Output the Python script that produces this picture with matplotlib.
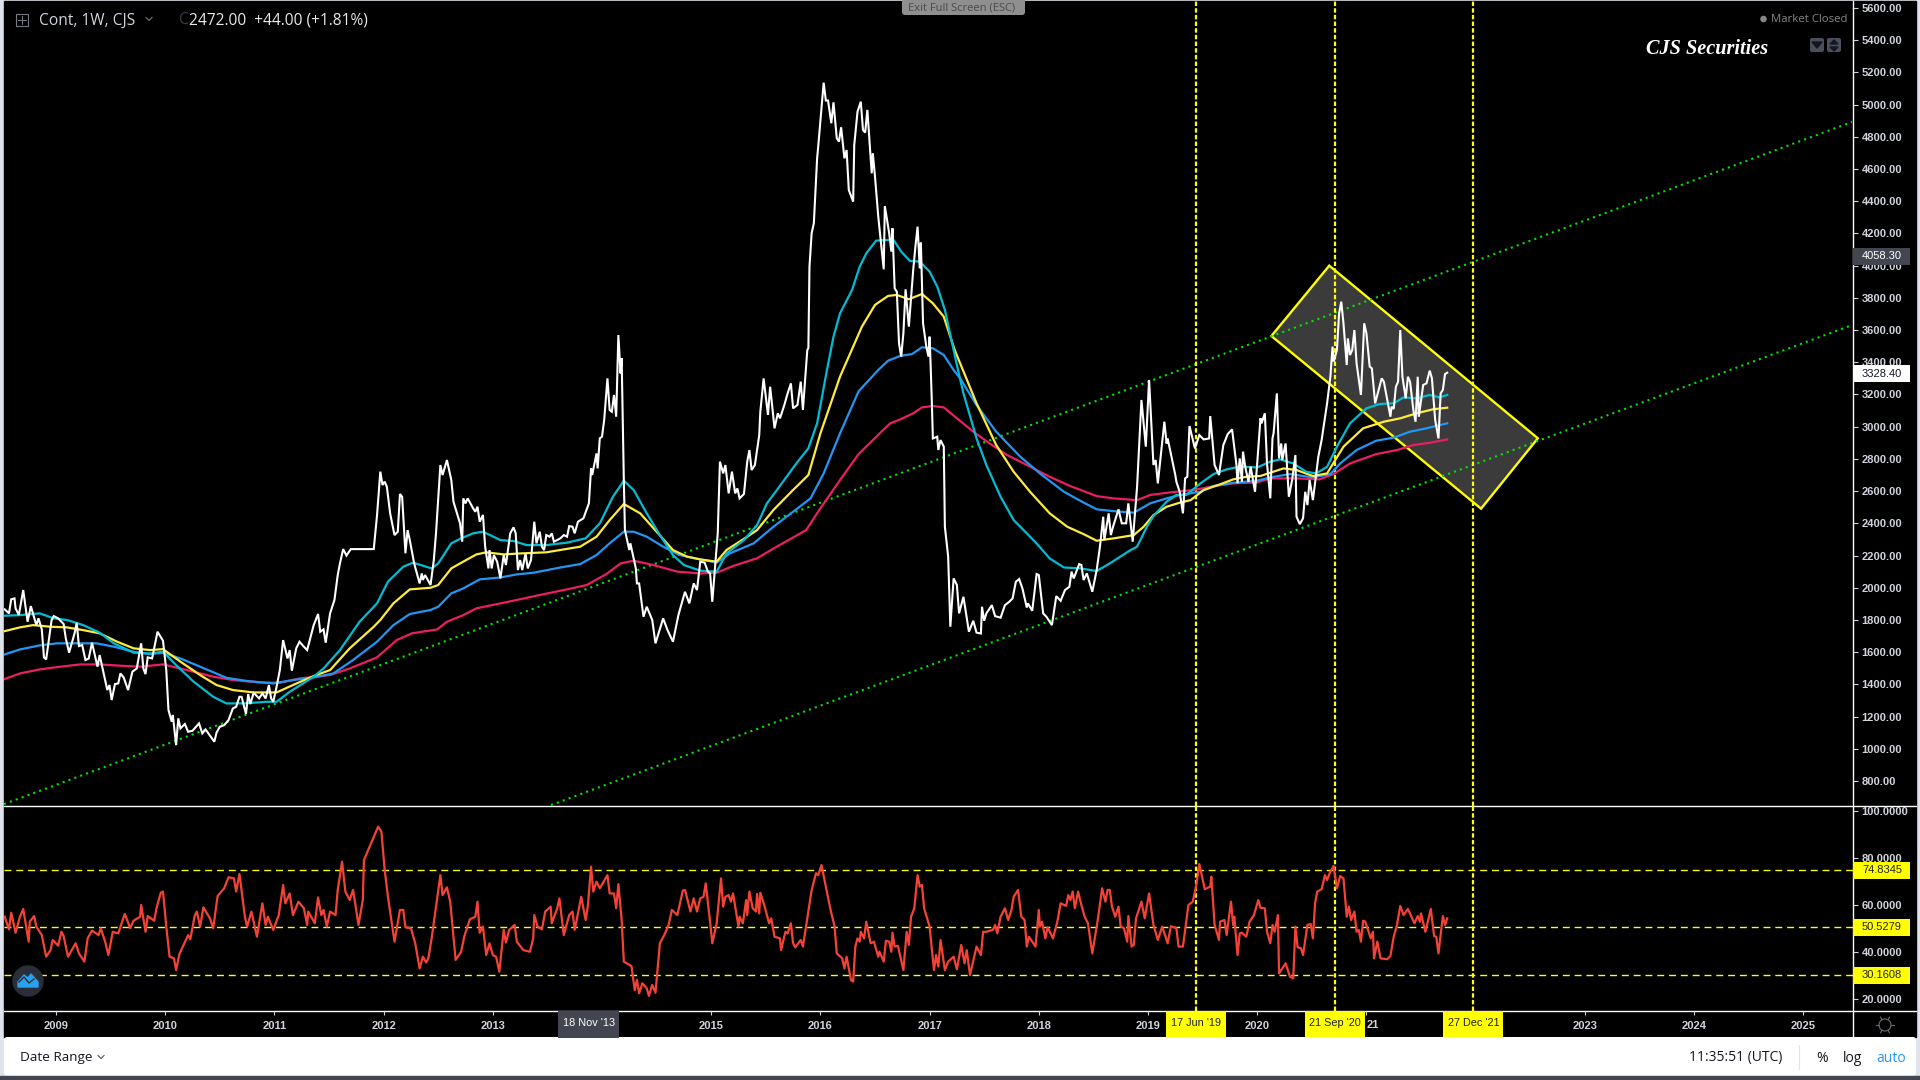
import numpy as np
import matplotlib
matplotlib.use("Agg")
import matplotlib.pyplot as plt
from matplotlib.patches import Rectangle, Circle, Polygon, FancyBboxPatch

# all values, (decimal year, value)
price = [(2008.53,1866),(2008.57,1841),(2008.59,1928),(2008.62,1934),(2008.63,1872),(2008.66,1831),(2008.70,1986),(2008.74,1789),
(2008.77,1886),(2008.82,1768),(2008.84,1810),(2008.87,1742),(2008.89,1568),(2008.91,1555),(2008.96,1800),(2008.98,1824),
(2009.02,1810),(2009.07,1775),(2009.09,1686),(2009.12,1597),(2009.17,1717),(2009.19,1783),(2009.21,1638),(2009.24,1644),
(2009.27,1551),(2009.30,1561),(2009.33,1659),(2009.38,1510),(2009.40,1582),(2009.47,1365),(2009.49,1396),(2009.51,1303),
(2009.54,1402),(2009.57,1406),(2009.59,1468),(2009.62,1443),(2009.66,1365),(2009.70,1479),(2009.74,1499),(2009.78,1655),
(2009.80,1499),(2009.82,1464),(2009.84,1568),(2009.88,1561),(2009.93,1727),(2009.98,1671),(2010.01,1489),(2010.03,1241),
(2010.06,1168),(2010.07,1210),(2010.10,1023),(2010.12,1189),(2010.14,1127),(2010.18,1154),(2010.21,1106),(2010.25,1112),
(2010.31,1158),(2010.34,1096),(2010.37,1120),(2010.45,1044),(2010.47,1100),(2010.50,1137),(2010.54,1147),(2010.58,1178),
(2010.62,1251),(2010.65,1261),(2010.68,1323),(2010.70,1323),(2010.74,1216),(2010.76,1340),(2010.78,1278),(2010.81,1348),
(2010.86,1313),(2010.89,1344),(2010.92,1313),(2010.95,1396),(2010.97,1313),(2010.99,1292),(2011.02,1385),(2011.05,1489),
(2011.08,1675),(2011.12,1561),(2011.14,1613),(2011.16,1485),(2011.20,1624),(2011.23,1665),(2011.27,1634),(2011.30,1613),
(2011.36,1768),(2011.40,1837),(2011.42,1727),(2011.45,1742),(2011.47,1659),(2011.51,1841),(2011.55,1924),(2011.58,2079),
(2011.60,2150),(2011.63,2240),(2011.66,2200),(2011.70,2240),(2011.91,2240),(2011.94,2450),(2011.97,2721),(2011.99,2638),
(2012.01,2659),(2012.03,2627),(2012.06,2462),(2012.10,2327),(2012.13,2348),(2012.15,2582),(2012.17,2565),(2012.20,2214),
(2012.22,2358),(2012.24,2296),(2012.28,2151),(2012.33,2027),(2012.35,2089),(2012.36,2048),(2012.38,2079),(2012.43,2017),
(2012.46,2172),(2012.48,2338),(2012.52,2762),(2012.54,2700),(2012.58,2793),(2012.62,2669),(2012.64,2534),(2012.70,2400),
(2012.72,2286),(2012.73,2555),(2012.75,2524),(2012.77,2555),(2012.82,2493),(2012.84,2472),(2012.86,2503),(2012.88,2410),
(2012.91,2452),(2012.93,2255),(2012.96,2120),(2012.97,2234),(2012.99,2120),(2013.01,2203),(2013.04,2162),(2013.07,2058),
(2013.10,2203),(2013.12,2141),(2013.16,2338),(2013.19,2375),(2013.21,2338),(2013.23,2110),(2013.25,2172),(2013.27,2110),
(2013.30,2213),(2013.32,2120),(2013.35,2172),(2013.38,2410),(2013.40,2276),(2013.43,2348),(2013.45,2255),(2013.47,2234),
(2013.49,2327),(2013.52,2317),(2013.54,2338),(2013.56,2286),(2013.62,2307),(2013.65,2327),(2013.68,2317),(2013.70,2383),
(2013.73,2379),(2013.75,2338),(2013.78,2410),(2013.83,2431),(2013.88,2524),(2013.90,2741),(2013.91,2700),(2013.95,2834),
(2013.96,2741),(2013.98,2928),(2014.00,2938),(2014.02,3041),(2014.05,3300),(2014.07,3104),(2014.09,3093),(2014.11,3197),
(2014.13,3062),(2014.15,3569),(2014.17,3331),(2014.18,3425),(2014.20,2669),(2014.21,2358),(2014.25,2234),(2014.26,2276),
(2014.31,2120),(2014.32,2027),(2014.34,2027),(2014.38,1820),(2014.41,1882),(2014.46,1800),(2014.49,1655),(2014.56,1810),
(2014.60,1737),(2014.65,1665),(2014.70,1831),(2014.76,1975),(2014.80,1903),(2014.84,2027),(2014.87,1986),(2014.90,2162),
(2014.94,2156),(2014.97,2100),(2014.99,2089),(2015.01,1913),(2015.06,2338),(2015.08,2783),(2015.11,2710),(2015.13,2762),
(2015.16,2586),(2015.19,2721),(2015.22,2586),(2015.24,2617),(2015.26,2555),(2015.30,2582),(2015.33,2783),(2015.35,2855),
(2015.37,2731),(2015.40,2762),(2015.44,2948),(2015.45,3093),(2015.48,3300),(2015.52,3073),(2015.54,3248),(2015.58,2990),
(2015.61,3083),(2015.63,3052),(2015.67,3135),(2015.70,3207),(2015.73,3269),(2015.75,3114),(2015.79,3135),(2015.82,3280),
(2015.84,3104),(2015.88,3476),(2015.89,3487),(2015.90,3994),(2015.92,4201),(2015.94,4263),(2015.97,4666),(2015.98,4739),
(2016.03,5136),(2016.05,5025),(2016.07,5025),(2016.10,4884),(2016.12,5014),(2016.15,4791),(2016.17,4770),(2016.19,4859),
(2016.22,4666),(2016.24,4718),(2016.26,4470),(2016.30,4397),(2016.31,4749),(2016.34,4956),(2016.37,5018),(2016.39,4842),
(2016.41,4826),(2016.43,4967),(2016.46,4677),(2016.47,4573),(2016.48,4698),(2016.50,4553),(2016.53,4304),(2016.58,3977),
(2016.59,4370),(2016.63,4201),(2016.65,4087),(2016.66,4232),(2016.68,3859),(2016.70,3838),(2016.72,3518),(2016.74,3435),
(2016.76,3580),(2016.78,3853),(2016.81,3621),(2016.85,3973),(2016.87,4118),(2016.89,4242),(2016.91,3983),(2016.92,4143),
(2016.94,3642),(2016.97,3497),(2016.99,3435),(2017.00,3559),(2017.01,3373),(2017.02,3166),(2017.03,2927),(2017.07,2938),
(2017.08,2855),(2017.10,2917),(2017.13,2876),(2017.14,2379),(2017.17,2193),(2017.19,1758),(2017.22,2058),(2017.25,2017),
(2017.27,1841),(2017.31,1944),(2017.36,1727),(2017.40,1795),(2017.43,1721),(2017.47,1716),(2017.48,1882),(2017.50,1795),
(2017.52,1841),(2017.57,1892),(2017.60,1824),(2017.65,1814),(2017.69,1892),(2017.73,1913),(2017.76,1934),(2017.79,2037),
(2017.82,2054),(2017.85,1996),(2017.89,1878),(2017.90,1903),(2017.94,1857),(2017.98,2085),(2018.00,2079),(2018.04,1841),
(2018.07,1820),(2018.12,1768),(2018.16,1948),(2018.20,1919),(2018.24,1986),(2018.28,2006),(2018.30,2100),(2018.32,2058),
(2018.37,2147),(2018.39,2141),(2018.41,2048),(2018.44,2089),(2018.49,1975),(2018.53,2110),(2018.56,2255),(2018.59,2441),
(2018.60,2296),(2018.64,2462),(2018.66,2327),(2018.68,2379),(2018.73,2487),(2018.76,2400),(2018.80,2400),(2018.82,2524),
(2018.86,2286),(2018.90,2627),(2018.94,3166),(2018.98,2876),(2019.01,3290),(2019.05,2762),(2019.07,2793),(2019.09,2648),
(2019.15,3031),(2019.17,2896),(2019.18,2927),(2019.25,2700),(2019.26,2658),(2019.29,2596),(2019.32,2462),(2019.34,2679),
(2019.36,2689),(2019.38,3004),(2019.43,2865),(2019.47,2948),(2019.51,2921),(2019.56,2927),(2019.57,3066),(2019.61,2762),
(2019.65,2700),(2019.69,2886),(2019.73,2954),(2019.77,2983),(2019.81,2762),(2019.82,2648),(2019.84,2803),(2019.86,2658),
(2019.87,2845),(2019.89,2752),(2019.92,2658),(2019.94,2752),(2019.98,2596),(2020.00,2772),(2020.02,2958),(2020.03,3052),
(2020.04,3021),(2020.07,3083),(2020.09,2772),(2020.12,2555),(2020.14,2927),(2020.15,2958),(2020.18,3207),(2020.20,2803),
(2020.22,2896),(2020.23,2793),(2020.26,2896),(2020.29,2565),(2020.32,2669),(2020.35,2824),(2020.36,2441),(2020.39,2395),
(2020.42,2431),(2020.44,2596),(2020.46,2513),(2020.48,2669),(2020.51,2544),(2020.56,2814),(2020.59,2917),(2020.63,3103),
(2020.64,3145),(2020.67,3310),(2020.69,3497),(2020.70,3404),(2020.73,3476),(2020.75,3704),(2020.77,3776),(2020.79,3642),
(2020.82,3383),(2020.83,3548),(2020.85,3445),(2020.87,3476),(2020.89,3600),(2020.91,3393),(2020.95,3197),(2020.98,3642),
(2021.00,3580),(2021.03,3373),(2021.05,3362),(2021.08,3145),(2021.14,3300),(2021.16,3279),(2021.22,3062),(2021.23,3124),
(2021.25,3110),(2021.27,3248),(2021.29,3279),(2021.31,3600),(2021.33,3310),(2021.36,3176),(2021.38,3310),(2021.40,3279),
(2021.43,3103),(2021.45,3031),(2021.47,3310),(2021.48,3062),(2021.52,3259),(2021.55,3269),(2021.58,3348),(2021.60,3300),
(2021.63,3041),(2021.66,2927),(2021.68,3207),(2021.70,3228),(2021.72,3327),(2021.74,3335)]

ma_cyan = [(2008.52,1826),(2008.67,1830),(2008.85,1841),(2008.98,1810),(2009.10,1800),(2009.25,1768),(2009.40,1721),(2009.53,1655),
(2009.71,1597),(2009.86,1592),(2009.98,1603),(2010.10,1520),(2010.26,1417),(2010.44,1323),(2010.56,1282),(2010.72,1282),
(2010.93,1292),(2011.02,1292),(2011.14,1354),(2011.36,1448),(2011.45,1499),(2011.60,1613),(2011.78,1789),(2011.94,1903),
(2012.04,2038),(2012.18,2131),(2012.27,2156),(2012.44,2120),(2012.50,2151),(2012.62,2276),(2012.71,2307),(2012.82,2338),
(2012.91,2348),(2013.07,2296),(2013.19,2290),(2013.31,2265),(2013.49,2265),(2013.68,2280),(2013.85,2307),(2013.98,2400),
(2014.10,2565),(2014.20,2665),(2014.29,2607),(2014.41,2462),(2014.53,2327),(2014.65,2203),(2014.75,2141),(2014.90,2106),
(2015.05,2100),(2015.14,2213),(2015.30,2296),(2015.42,2389),(2015.51,2524),(2015.59,2596),(2015.78,2772),(2015.89,2866),
(2015.97,3021),(2016.06,3352),(2016.12,3559),(2016.18,3704),(2016.29,3849),(2016.36,3994),(2016.42,4076),(2016.51,4155),
(2016.59,4159),(2016.67,4159),(2016.74,4087),(2016.82,4029),(2016.91,4025),(2017.00,3963),(2017.07,3870),(2017.14,3725),
(2017.20,3538),(2017.26,3352),(2017.31,3207),(2017.43,2927),(2017.52,2762),(2017.65,2565),(2017.77,2420),(2017.89,2338),
(2017.98,2275),(2018.10,2182),(2018.23,2126),(2018.38,2120),(2018.53,2104),(2018.65,2151),(2018.84,2234),(2018.90,2255),
(2018.99,2379),(2019.05,2445),(2019.17,2534),(2019.26,2576),(2019.35,2576),(2019.48,2648),(2019.60,2706),(2019.72,2735),
(2019.84,2752),(2020.00,2747),(2020.12,2783),(2020.21,2797),(2020.33,2772),(2020.45,2720),(2020.54,2710),(2020.64,2751),
(2020.73,2876),(2020.85,3021),(2021.00,3114),(2021.12,3141),(2021.25,3145),(2021.34,3182),(2021.46,3176),(2021.58,3197),
(2021.67,3182),(2021.74,3197)]

ma_yellow = [(2008.52,1729),(2008.67,1754),(2008.79,1768),(2008.95,1758),(2009.10,1754),(2009.25,1737),(2009.40,1717),(2009.56,1665),
(2009.71,1624),(2009.86,1613),(2009.98,1619),(2010.14,1541),(2010.32,1458),(2010.47,1396),(2010.62,1365),(2010.81,1350),
(2011.02,1350),(2011.17,1396),(2011.36,1452),(2011.51,1489),(2011.69,1624),(2011.91,1758),(2011.97,1800),(2012.09,1903),
(2012.24,1990),(2012.43,2000),(2012.50,2017),(2012.62,2120),(2012.70,2151),(2012.85,2207),(2012.94,2220),(2013.10,2207),
(2013.25,2213),(2013.49,2220),(2013.80,2255),(2013.95,2317),(2014.07,2420),(2014.20,2520),(2014.35,2462),(2014.50,2348),
(2014.65,2234),(2014.78,2193),(2014.90,2176),(2015.05,2162),(2015.14,2234),(2015.33,2317),(2015.42,2358),(2015.57,2483),
(2015.75,2607),(2015.89,2700),(2016.00,2958),(2016.18,3311),(2016.30,3497),(2016.38,3621),(2016.50,3756),(2016.62,3812),
(2016.70,3818),(2016.81,3791),(2016.93,3824),(2017.03,3766),(2017.13,3683),(2017.23,3476),(2017.43,3145),(2017.61,2886),
(2017.77,2720),(2017.92,2596),(2018.10,2462),(2018.26,2379),(2018.41,2333),(2018.53,2292),(2018.68,2306),(2018.87,2327),
(2018.96,2379),(2019.05,2451),(2019.17,2503),(2019.29,2528),(2019.39,2544),(2019.51,2607),(2019.66,2642),(2019.78,2673),
(2019.90,2689),(2020.03,2694),(2020.24,2741),(2020.36,2731),(2020.51,2694),(2020.64,2710),(2020.79,2876),(2020.97,2990),
(2021.16,3031),(2021.31,3052),(2021.46,3083),(2021.61,3108),(2021.74,3118)]

ma_blue = [(2008.52,1584),(2008.67,1617),(2008.85,1642),(2009.01,1655),(2009.19,1655),(2009.37,1655),(2009.53,1634),(2009.71,1603),
(2009.86,1588),(2009.98,1597),(2010.14,1561),(2010.32,1510),(2010.56,1441),(2010.75,1421),(2010.99,1406),(2011.17,1427),
(2011.36,1443),(2011.54,1468),(2011.72,1551),(2011.94,1665),(2012.09,1768),(2012.24,1837),(2012.43,1862),(2012.50,1882),
(2012.62,1965),(2012.73,1996),(2012.88,2052),(2013.07,2064),(2013.22,2083),(2013.37,2093),(2013.62,2126),(2013.80,2147),
(2013.95,2203),(2014.07,2276),(2014.20,2348),(2014.29,2348),(2014.41,2317),(2014.56,2255),(2014.71,2203),(2014.90,2176),
(2015.05,2156),(2015.17,2213),(2015.39,2276),(2015.57,2379),(2015.75,2472),(2015.91,2555),(2016.03,2710),(2016.18,2959),
(2016.35,3220),(2016.53,3352),(2016.62,3410),(2016.73,3439),(2016.84,3451),(2016.93,3493),(2017.03,3487),(2017.13,3445),
(2017.22,3352),(2017.28,3300),(2017.43,3134),(2017.61,2969),(2017.83,2814),(2018.01,2710),(2018.23,2596),(2018.38,2540),
(2018.53,2487),(2018.68,2476),(2018.87,2466),(2019.02,2524),(2019.17,2555),(2019.29,2576),(2019.48,2596),(2019.60,2631),
(2019.78,2652),(2020.00,2665),(2020.12,2685),(2020.30,2706),(2020.51,2685),(2020.67,2706),(2020.76,2772),(2020.91,2855),
(2021.09,2913),(2021.25,2932),(2021.40,2969),(2021.55,2990),(2021.74,3021)]

ma_pink = [(2008.52,1431),(2008.67,1468),(2008.85,1493),(2009.04,1510),(2009.22,1524),(2009.40,1524),(2009.59,1516),(2009.77,1510),
(2009.98,1524),(2010.20,1489),(2010.44,1448),(2010.62,1427),(2010.87,1412),(2011.05,1410),(2011.23,1437),(2011.51,1458),
(2011.69,1499),(2011.94,1568),(2012.12,1675),(2012.26,1717),(2012.49,1741),(2012.58,1789),(2012.73,1830),(2012.85,1872),
(2013.04,1899),(2013.19,1920),(2013.43,1955),(2013.68,1990),(2013.86,2017),(2014.04,2085),(2014.17,2151),(2014.29,2168),
(2014.47,2141),(2014.69,2100),(2014.90,2089),(2015.05,2093),(2015.20,2135),(2015.42,2183),(2015.60,2255),(2015.87,2358),
(2015.99,2483),(2016.18,2669),(2016.35,2830),(2016.55,2963),(2016.64,3021),(2016.73,3045),(2016.85,3083),(2016.93,3120),
(2017.03,3128),(2017.13,3120),(2017.25,3052),(2017.40,2969),(2017.55,2896),(2017.71,2824),(2017.92,2752),(2018.10,2689),
(2018.29,2631),(2018.53,2569),(2018.68,2555),(2018.90,2544),(2019.02,2576),(2019.20,2592),(2019.42,2607),(2019.60,2631),
(2019.78,2648),(2020.00,2654),(2020.12,2679),(2020.36,2679),(2020.57,2673),(2020.70,2706),(2020.85,2772),(2021.09,2830),
(2021.28,2855),(2021.43,2886),(2021.58,2900),(2021.74,2921)]

rsi = [(2008.53,55.0),(2008.57,49.6),(2008.59,56.7),(2008.63,48.2),(2008.67,55.0),(2008.70,58.3),(2008.75,44.4),(2008.76,52.9),
(2008.80,55.3),(2008.82,50.8),(2008.87,47.2),(2008.91,38.0),(2008.95,40.8),(2008.97,45.1),(2009.02,42.7),(2009.05,48.6),
(2009.07,46.8),(2009.11,38.0),(2009.18,43.7),(2009.21,39.4),(2009.26,35.9),(2009.29,45.8),(2009.33,49.1),(2009.39,47.2),
(2009.41,50.1),(2009.45,44.4),(2009.48,38.7),(2009.52,48.6),(2009.57,47.9),(2009.63,56.2),(2009.68,50.1),(2009.71,53.3),
(2009.77,55.0),(2009.78,60.0),(2009.82,48.6),(2009.84,55.3),(2009.90,53.3),(2009.92,58.6),(2009.96,65.2),(2009.98,65.7),
(2010.01,50.8),(2010.04,38.0),(2010.08,37.3),(2010.10,32.3),(2010.13,39.1),(2010.21,47.2),(2010.23,45.4),(2010.27,55.3),
(2010.29,57.2),(2010.32,50.8),(2010.35,59.0),(2010.41,54.3),(2010.44,50.1),(2010.48,63.8),(2010.54,67.1),(2010.58,71.8),
(2010.63,71.3),(2010.65,65.7),(2010.68,73.2),(2010.73,55.0),(2010.75,50.8),(2010.79,57.2),(2010.84,46.5),(2010.89,60.7),
(2010.92,51.5),(2010.94,55.0),(2010.99,49.4),(2011.04,55.7),(2011.08,68.5),(2011.10,60.7),(2011.14,64.9),(2011.17,55.7),
(2011.22,61.4),(2011.27,58.6),(2011.30,51.5),(2011.31,57.2),(2011.37,52.2),(2011.40,63.2),(2011.43,55.7),(2011.45,57.9),
(2011.48,50.8),(2011.51,57.2),(2011.56,55.7),(2011.58,66.4),(2011.62,78.4),(2011.65,65.7),(2011.69,62.1),(2011.72,66.4),
(2011.74,60.7),(2011.77,51.5),(2011.81,62.1),(2011.82,79.1),(2011.95,93.3),(2011.98,91.2),(2012.01,74.9),(2012.04,63.5),
(2012.08,50.8),(2012.10,44.4),(2012.15,57.9),(2012.18,57.9),(2012.20,50.5),(2012.25,50.1),(2012.29,43.7),(2012.33,33.0),
(2012.36,38.0),(2012.39,35.5),(2012.41,37.3),(2012.44,45.8),(2012.52,72.7),(2012.54,64.2),(2012.58,67.5),(2012.61,61.4),
(2012.66,36.6),(2012.71,40.1),(2012.74,46.8),(2012.79,53.9),(2012.84,55.0),(2012.86,61.4),(2012.88,48.2),(2012.91,50.8),
(2012.94,38.7),(2012.97,43.7),(2013.00,38.7),(2013.03,38.0),(2013.06,31.6),(2013.10,49.4),(2013.12,44.0),(2013.15,49.4),
(2013.20,51.5),(2013.22,44.4),(2013.28,40.8),(2013.34,40.1),(2013.37,45.8),(2013.38,55.7),(2013.41,50.8),(2013.45,49.6),
(2013.48,57.2),(2013.53,59.3),(2013.54,52.2),(2013.59,58.6),(2013.61,62.8),(2013.65,47.2),(2013.70,55.7),(2013.73,57.2),
(2013.75,49.4),(2013.81,63.5),(2013.85,53.6),(2013.87,59.3),(2013.90,76.3),(2013.92,65.7),(2013.95,69.9),(2013.98,67.1),
(2014.05,72.7),(2014.07,64.9),(2014.11,64.9),(2014.13,58.6),(2014.15,68.9),(2014.18,53.6),(2014.20,35.9),(2014.27,34.0),
(2014.30,23.8),(2014.32,28.1),(2014.34,22.4),(2014.37,26.7),(2014.41,24.5),(2014.43,21.3),(2014.46,26.0),(2014.49,22.7),
(2014.53,43.7),(2014.57,47.2),(2014.61,51.5),(2014.64,57.9),(2014.69,55.7),(2014.74,66.1),(2014.76,66.4),(2014.81,57.2),
(2014.84,62.8),(2014.87,57.2),(2014.90,62.8),(2014.93,63.5),(2014.95,69.2),(2015.00,48.6),(2015.01,43.7),(2015.05,52.2),
(2015.09,71.3),(2015.11,59.3),(2015.13,63.5),(2015.16,64.2),(2015.18,61.4),(2015.20,64.9),(2015.25,50.8),(2015.26,55.0),
(2015.29,52.2),(2015.32,62.1),(2015.33,55.7),(2015.35,65.7),(2015.38,58.6),(2015.41,57.2),(2015.42,64.7),(2015.44,56.4),
(2015.45,65.2),(2015.49,59.3),(2015.53,52.2),(2015.55,54.3),(2015.58,46.5),(2015.63,45.8),(2015.64,40.8),(2015.68,48.6),
(2015.70,47.9),(2015.73,52.2),(2015.75,43.7),(2015.77,42.0),(2015.82,45.1),(2015.84,42.3),(2015.92,66.4),(2015.96,73.5),
(2015.98,72.7),(2016.01,77.0),(2016.09,58.6),(2016.13,50.8),(2016.15,39.4),(2016.20,37.3),(2016.22,33.0),(2016.24,38.0),
(2016.28,28.1),(2016.30,27.4),(2016.32,42.3),(2016.34,45.8),(2016.36,44.4),(2016.37,48.6),(2016.40,45.8),(2016.42,52.9),
(2016.46,43.7),(2016.49,44.4),(2016.53,38.0),(2016.54,40.1),(2016.58,35.9),(2016.60,44.8),(2016.63,44.4),(2016.65,40.1),
(2016.66,48.2),(2016.68,42.3),(2016.71,42.6),(2016.76,32.3),(2016.79,48.6),(2016.81,43.0),(2016.83,55.0),(2016.86,58.6),
(2016.89,72.7),(2016.91,67.8),(2016.93,68.5),(2016.95,58.6),(2017.00,50.8),(2017.04,32.3),(2017.06,38.7),(2017.08,33.8),
(2017.10,45.1),(2017.14,32.3),(2017.17,35.9),(2017.22,38.0),(2017.25,32.6),(2017.29,43.0),(2017.32,35.2),(2017.34,40.8),
(2017.37,30.2),(2017.43,42.3),(2017.47,38.7),(2017.49,48.6),(2017.52,48.6),(2017.58,49.4),(2017.60,51.5),(2017.62,47.9),
(2017.65,55.0),(2017.69,58.6),(2017.72,53.6),(2017.75,57.9),(2017.77,63.5),(2017.81,66.4),(2017.84,55.0),(2017.87,53.6),
(2017.89,42.3),(2017.91,46.5),(2017.97,42.3),(2018.00,57.9),(2018.01,50.8),(2018.03,52.9),(2018.06,45.8),(2018.08,50.5),
(2018.13,45.8),(2018.17,52.9),(2018.20,60.7),(2018.25,59.6),(2018.27,64.2),(2018.29,62.1),(2018.31,65.7),(2018.33,58.6),
(2018.36,65.7),(2018.39,60.0),(2018.42,55.0),(2018.45,52.2),(2018.49,39.4),(2018.54,53.6),(2018.58,67.1),(2018.61,61.4),
(2018.63,66.4),(2018.65,66.4),(2018.67,59.3),(2018.70,55.0),(2018.73,59.3),(2018.75,50.8),(2018.78,50.1),(2018.81,44.4),
(2018.82,55.3),(2018.85,42.3),(2018.87,43.0),(2018.89,54.3),(2018.94,61.4),(2018.97,54.3),(2019.01,64.9),(2019.05,51.5),
(2019.09,45.1),(2019.13,50.8),(2019.18,43.7),(2019.21,51.0),(2019.26,50.1),(2019.28,42.3),(2019.32,42.3),(2019.37,60.0),
(2019.41,61.4),(2019.44,67.8),(2019.47,77.4),(2019.52,66.7),(2019.57,67.8),(2019.58,72.0),(2019.61,51.5),(2019.65,45.1),
(2019.66,52.9),(2019.70,53.6),(2019.72,47.2),(2019.76,61.4),(2019.78,51.5),(2019.79,55.0),(2019.82,38.7),(2019.84,47.9),
(2019.86,48.2),(2019.90,46.5),(2019.93,52.9),(2019.97,55.7),(2020.01,62.1),(2020.03,58.8),(2020.07,58.6),(2020.09,48.6),
(2020.12,43.7),(2020.14,51.5),(2020.16,48.6),(2020.19,55.7),(2020.20,30.9),(2020.26,35.2),(2020.30,29.5),(2020.33,28.8),
(2020.35,50.8),(2020.37,42.0),(2020.40,41.6),(2020.42,38.7),(2020.46,51.5),(2020.49,51.9),(2020.51,45.8),(2020.53,60.7),
(2020.55,65.7),(2020.59,66.7),(2020.62,72.7),(2020.64,70.6),(2020.67,74.2),(2020.70,76.6),(2020.73,67.1),(2020.76,72.3),
(2020.79,71.3),(2020.82,55.0),(2020.84,59.3),(2020.86,53.6),(2020.89,57.2),(2020.91,48.6),(2020.93,49.4),(2020.95,44.4),
(2020.97,53.3),(2020.99,52.9),(2021.04,45.8),(2021.06,48.6),(2021.07,37.3),(2021.10,44.4),(2021.13,37.3),(2021.19,36.9),
(2021.22,38.3),(2021.25,46.5),(2021.28,51.5),(2021.31,59.6),(2021.34,55.7),(2021.38,58.3),(2021.44,52.2),(2021.47,55.3),
(2021.49,52.9),(2021.50,56.4),(2021.54,48.6),(2021.59,58.3),(2021.62,46.8),(2021.64,46.5),(2021.66,39.4),(2021.70,55.3),
(2021.72,51.5),(2021.74,54.3)]

upper_channel = [(2008.524,657),(2025.447,4892)]
lower_channel = [(2013.533,651),(2025.447,3631)]
box_corners = [(2020.66,4000),(2020.13,3563),(2022.05,2491),(2022.57,2928)]
marked_dates = [(2019.44,"17 Jun '19"),(2020.71,"21 Sep '20"),(2021.98,"27 Dec '21")]
cursor_date = (2013.88,"18 Nov '13")
rsi_levels = [74.8345,50.5279,30.1608]
years = list(range(2009,2026))
hidden_years = [2014,2021,2022]  # sit under the date tags in the picture
price_ticks = list(range(800,5601,200))
rsi_ticks = [20,40,60,80,100]
last_price = 3328.40
cursor_price = 4058.30

W, H = 1920, 1080
fig = plt.figure(figsize=(19.2,10.8), dpi=100, facecolor="#e0e3eb")

def pane(x0,y0,x1,y1,z):
    return fig.add_axes([x0/W,1-y1/H,(x1-x0)/W,(y1-y0)/H],zorder=z)

# background layer, in pixels
bg = pane(0,0,W,H,0)
bg.set_xlim(0,W); bg.set_ylim(H,0); bg.axis("off")
bg.add_patch(Rectangle((4,1),1912,1036,color="black"))
bg.add_patch(FancyBboxPatch((6,1039),1908,35,boxstyle="round,pad=2,rounding_size=3",fc="white",ec="none"))
bg.add_patch(Rectangle((0,1076),W,4,color="#434651"))
bg.plot([1853,1853],[1,1037],color="white",lw=1)
bg.plot([4,1916],[806,806],color="white",lw=1)
bg.plot([4,1916],[1011,1011],color="white",lw=1)

ax = pane(4,1,1853,806,1)
ax2 = pane(4,806,1853,1011,1)
xlim = (2008.524,2025.456)
for a in (ax,ax2):
    a.patch.set_alpha(0)
    a.set_xlim(*xlim)
    for s in a.spines.values():
        s.set_visible(False)
ax.set_ylim(645,5643)
ax2.set_ylim(14.9,102.1)

GREEN = "#00e600"
YEL = "#ffff00"
dotted = (0,(1,2))
vdash = (0,(2,1))

ax.add_patch(Polygon(box_corners,closed=True,fc="#3b3b3b",ec=YEL,lw=1.7,zorder=1))
for pts in (upper_channel,lower_channel):
    xs,ys = zip(*pts)
    ax.plot(xs,ys,color=GREEN,lw=1.5,ls=dotted,zorder=2)
for d,_ in marked_dates:
    for a in (ax,ax2):
        a.axvline(d,color=YEL,lw=1.6,ls=vdash,zorder=2)

for pts,c in ((ma_pink,"#e91e63"),(ma_blue,"#2196f3"),(ma_yellow,"#ffeb3b"),(ma_cyan,"#00bcd4")):
    xs,ys = np.array(pts).T
    ax.plot(xs,ys,color=c,lw=1.6,zorder=3,solid_joinstyle="round")
xs,ys = np.array(price).T
ax.plot(xs,ys,color="white",lw=1.5,zorder=4,solid_joinstyle="miter")

for lv in rsi_levels:
    ax2.axhline(lv,color=YEL,lw=1,ls=(0,(5,3.5)),zorder=2)
xs,ys = np.array(rsi).T
ax2.plot(xs,ys,color="#f44336",lw=1.6,zorder=3)

# axes ticks
TICK = "#d1d4dc"
lab = dict(fontsize=8,fontweight="bold",color=TICK,family="Liberation Sans")
ax.set_xticks([])
ax.yaxis.tick_right()
ax.set_yticks(price_ticks)
ax.set_yticklabels([f"{v:.2f}" for v in price_ticks],**lab)
ax2.yaxis.tick_right()
ax2.set_yticks(rsi_ticks)
ax2.set_yticklabels([f"{v:.4f}" for v in rsi_ticks],**lab)
for a in (ax,ax2):
    a.tick_params(axis="y",length=3.6,width=0.8,color=TICK,pad=2.5)
ax2.set_xticks(years)
ax2.set_xticklabels(["" if y in hidden_years else str(y) for y in years],**lab)
ax2.tick_params(axis="x",length=3,width=0.8,color=TICK,pad=4.5)
# only the end of 2021 shows beside its neighbouring tag
ax2.text(2021.0,-14/205,"21",transform=ax2.get_xaxis_transform(),ha="left",va="center",clip_on=False,**lab)

def y_tag(a,v,txt,bg_col,fg,w=57,h=17):
    ytrans = a.get_yaxis_transform()
    lo,hi = a.get_ylim()
    box_h = h*(hi-lo)/a.bbox.height
    a.add_patch(Rectangle((1.0,v-box_h/2),w/a.bbox.width,box_h,transform=ytrans,fc=bg_col,ec="none",clip_on=False,zorder=6))
    a.text(1+9/a.bbox.width,v,txt,transform=ytrans,color=fg,fontsize=8,family="Liberation Sans",va="center",ha="left",zorder=7,clip_on=False)

def x_tag(d,txt,bg_col,fg,w=60,h=26):
    xtrans = ax2.get_xaxis_transform()
    lo,hi = ax2.get_xlim()
    box_w = w*(hi-lo)/ax2.bbox.width
    ax2.add_patch(Rectangle((d-box_w/2,-h/ax2.bbox.height),box_w,h/ax2.bbox.height,transform=xtrans,fc=bg_col,ec="none",clip_on=False,zorder=6))
    ax2.text(d,-12/ax2.bbox.height,txt,transform=xtrans,color=fg,fontsize=7.8,family="Liberation Sans",va="center",ha="center",zorder=7,clip_on=False)

y_tag(ax,cursor_price,f"{cursor_price:.2f}","#434651","white")
y_tag(ax,last_price,f"{last_price:.2f}","white","#131722")
for lv in rsi_levels:
    y_tag(ax2,lv,f"{lv:.4f}",YEL,"#222222")
for d,t in marked_dates:
    x_tag(d,t,YEL,"#222222")
x_tag(cursor_date[0],cursor_date[1],"#434651","white",w=61,h=27)

# screen furniture on top, in pixels
ui = pane(0,0,W,H,5)
ui.set_xlim(0,W); ui.set_ylim(H,0); ui.axis("off"); ui.patch.set_alpha(0)
sans = "Open Sans"

def chevron(x,y,col="#787b86"):
    ui.plot([x-3,x,x+3],[y-1.5,y+1.5,y-1.5],color=col,lw=0.8)

ui.add_patch(Rectangle((16,14),12,12,fc="none",ec="#787b86",lw=0.8))
ui.plot([22,22],[16,24],color="#787b86",lw=0.7)
ui.plot([18,26],[20,20],color="#787b86",lw=0.7)
ui.text(39,20.5,"Cont, 1W, CJS",color="#d1d4dc",fontsize=11.2,family=sans,va="center")
chevron(149,19)
ui.text(179,20.5,"C",color="#3a3d47",fontsize=11.2,family=sans,va="center")
ui.text(189,20.5,"2472.00  +44.00 (+1.81%)",color="#e8e8e8",fontsize=11.2,family=sans,va="center")

ui.add_patch(FancyBboxPatch((903,-4),121,18,boxstyle="round,pad=1,rounding_size=3",fc="#8f8f8f",ec="none"))
ui.text(962,8,"Exit Full Screen (ESC)",color="#4a4a4a",fontsize=8,family=sans,ha="center",va="center")

ui.add_patch(Circle((1763.5,19),2.6,color="#868686"))
ui.text(1771,19,"Market Closed",color="#868686",fontsize=8.2,family=sans,va="center")
ui.text(1646,48.5,"CJS Securities",color="white",fontsize=14.6,family="Liberation Serif",fontweight="bold",fontstyle="italic",va="center")
for x0 in (1810,1827):
    ui.add_patch(FancyBboxPatch((x0+1,39),12,12,boxstyle="round,pad=1,rounding_size=2",fc="#4a4e5e",ec="none"))
ui.add_patch(Polygon([(1812,42),(1822,42),(1817,48)],color="#15171f"))
ui.add_patch(Polygon([(1830,44),(1838,44),(1834,40)],color="#15171f"))
ui.add_patch(Polygon([(1830,47),(1838,47),(1834,51)],color="#15171f"))

ui.add_patch(Circle((28,981),15,color="#2a2e39"))
ui.add_patch(Polygon([(18,987),(18,982),(24,975),(28,978),(31,974),(38,982),(38,987)],color="#29a0f0"))
ui.plot([19,24,29,34],[982,977,983,979],color="#2a2e39",lw=1)

ui.add_patch(Circle((1885,1025),6,fc="none",ec="#6a6d78",lw=0.8))
for a in np.arange(0,360,60):
    c,s = np.cos(np.radians(a)),np.sin(np.radians(a))
    ui.plot([1885+6*c,1885+9*c],[1025+6*s,1025+9*s],color="#6a6d78",lw=0.8)

ui.text(20,1058,"Date Range",color="#131722",fontsize=9.7,family=sans,va="center")
chevron(101,1057,"#50535e")
ui.text(1689,1058,"11:35:51 (UTC)",color="#131722",fontsize=10,family=sans,va="center")
ui.plot([1799,1799],[1045,1069],color="#e0e3eb",lw=0.8)
ui.text(1822,1058,"%",color="#131722",fontsize=10,family=sans,va="center",ha="center")
ui.text(1853,1058,"log",color="#131722",fontsize=10,family=sans,va="center",ha="center")
ui.text(1891,1058,"auto",color="#2196f3",fontsize=10,family=sans,va="center",ha="center")

fig.savefig("out.png",dpi=100,facecolor=fig.get_facecolor())
